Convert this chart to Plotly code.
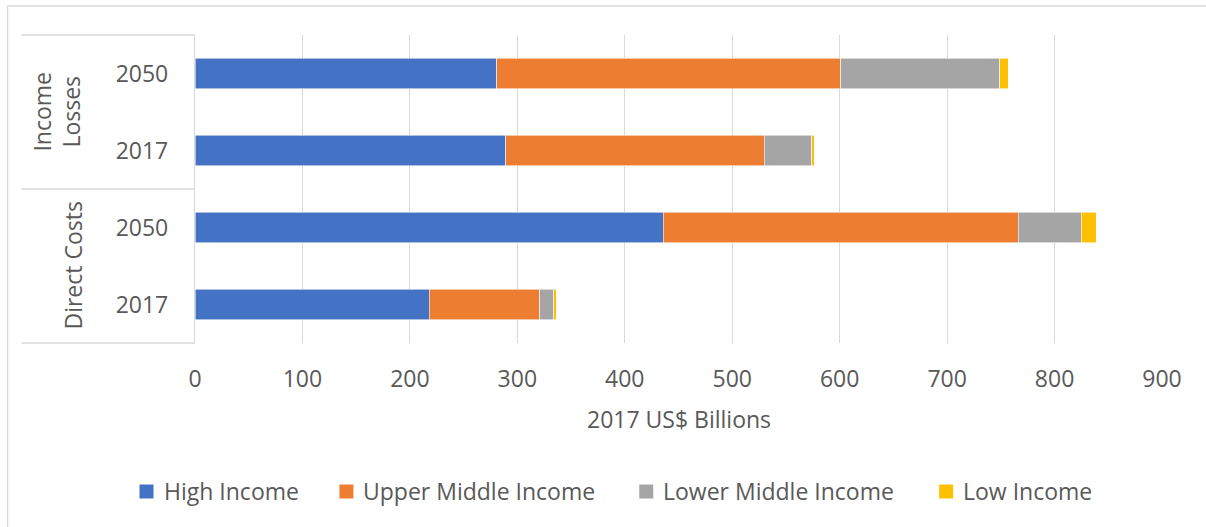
import plotly.graph_objects as go

# Stacked damages by country income group, 2017 US$ billions
rows = ["Direct Costs|2017", "Direct Costs|2050", "Income Losses|2017", "Income Losses|2050"]
years = ["2017", "2050", "2017", "2050"]

high_income = [218, 436, 289, 281]
upper_middle_income = [103, 330, 241, 320]
lower_middle_income = [13, 59, 44, 148]
low_income = [2, 14, 2.5, 8]

series = [
    ("High Income", high_income, "#4472C4"),
    ("Upper Middle Income", upper_middle_income, "#ED7D31"),
    ("Lower Middle Income", lower_middle_income, "#A5A5A5"),
    ("Low Income", low_income, "#FFC000"),
]

x_ticks = list(range(0, 1000, 100))

FONT = "Open Sans"
TEXT = "#595959"
GRID = "#D9D9D9"
FS = 23

fig = go.Figure()
for name, vals, color in series:
    fig.add_trace(go.Bar(
        y=rows, x=vals, name=name, orientation="h", showlegend=False,
        marker=dict(color=color, line=dict(color="rgba(255,255,255,0.7)", width=0.8)),
    ))

# plot area geometry in pixels
L, R, T, B = 194.5, 1162.0, 35.0, 343.0
W, H = R - L, B - T


def px(xp):
    return (xp - L) / W


def py(yp):
    return (B - yp) / H


fig.update_layout(
    width=1206, height=527,
    margin=dict(l=L, r=1206 - R, t=T, b=527 - B, pad=0),
    barmode="stack", bargap=0.6,
    paper_bgcolor="white", plot_bgcolor="white",
    font=dict(family=FONT, size=FS, color=TEXT),
    xaxis=dict(
        range=[0, 900], tickvals=x_ticks, showgrid=True, gridcolor=GRID, gridwidth=1.3,
        zeroline=False, showline=False, ticks="", tickfont=dict(size=FS, color=TEXT),
        ticklabelstandoff=20,
    ),
    yaxis=dict(
        type="category", categoryorder="array", categoryarray=rows,
        tickvals=rows, ticktext=years, showgrid=False, zeroline=False,
        showline=True, linecolor=GRID, linewidth=1.3, ticks="",
        ticklabelstandoff=21, tickfont=dict(size=FS, color=TEXT),
    ),
    showlegend=False,
)

# axis title
fig.add_annotation(
    text="2017 US$ Billions", xref="paper", yref="paper", x=0.5, y=py(419),
    xanchor="center", yanchor="middle", showarrow=False, font=dict(size=FS, color=TEXT),
)

# group labels of the two-level category axis
fig.add_annotation(
    text="Income<br>Losses", xref="paper", yref="paper", x=px(56), y=py(112),
    xanchor="center", yanchor="middle", showarrow=False, textangle=-90,
    font=dict(size=FS, color=TEXT),
)
fig.add_annotation(
    text="Direct Costs", xref="paper", yref="paper", x=px(72), y=py(266),
    xanchor="center", yanchor="middle", showarrow=False, textangle=-90,
    font=dict(size=FS, color=TEXT),
)

# category axis dividers
for yp in (T, 189, B):
    fig.add_shape(type="line", xref="paper", yref="paper",
                  x0=px(21), x1=px(L), y0=py(yp), y1=py(yp),
                  line=dict(color=GRID, width=1.3))

# legend row: swatch + label per series
legend_left = [139, 339, 639, 939]
for (name, _, color), lx in zip(series, legend_left):
    fig.add_shape(type="rect", xref="paper", yref="paper",
                  x0=px(lx), x1=px(lx + 14), y0=py(484.5), y1=py(498.5),
                  fillcolor=color, line=dict(width=0))
    fig.add_annotation(
        text=name, xref="paper", yref="paper", x=px(lx + 22), y=py(491),
        xanchor="left", yanchor="middle", showarrow=False,
        font=dict(size=FS, color=TEXT),
    )

# chart frame
fig.add_shape(type="rect", xref="paper", yref="paper",
              x0=px(7), x1=px(1212), y0=py(6), y1=py(540),
              line=dict(color=GRID, width=1.3), layer="below")

fig.write_html("out.html")
